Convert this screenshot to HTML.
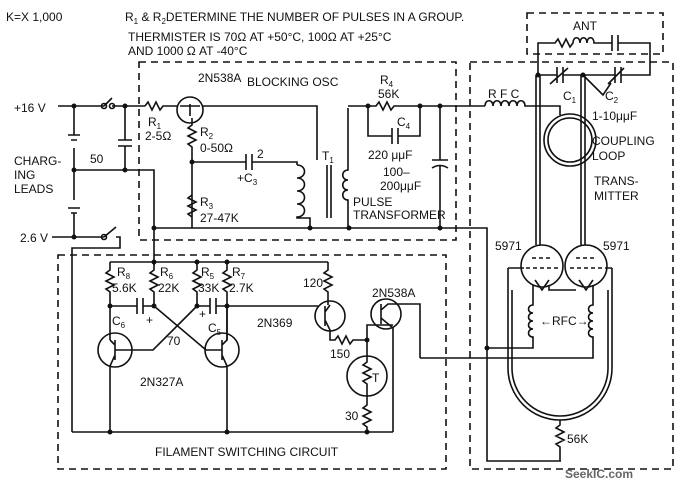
<!DOCTYPE html>
<html><head><meta charset="utf-8"><style>
html,body{margin:0;padding:0;background:#fff}
svg{display:block}
text{font-family:"Liberation Sans",sans-serif;font-size:12px;fill:#111}
.l{stroke:#111;stroke-width:1.6;fill:none}
.d{stroke:#111;stroke-width:1.6;fill:none;stroke-dasharray:7,5}
.n{fill:#111}
</style></head><body>
<svg width="684" height="487" viewBox="0 0 684 487">
<text x="6" y="21">K=X 1,000</text>
<text x="125" y="21">R<tspan font-size="8" dy="3">1</tspan><tspan dy="-3"> &amp; R</tspan><tspan font-size="8" dy="3">2</tspan><tspan dy="-3">DETERMINE THE NUMBER OF PULSES IN A GROUP.</tspan></text>
<text x="128" y="41">THERMISTER IS 70Ω AT +50°C, 100Ω AT +25°C</text>
<text x="128" y="55">AND 1000 Ω AT -40°C</text>
<rect class="d" x="139" y="62" width="317" height="178"/>
<rect class="d" x="470" y="62" width="203" height="407"/>
<rect class="d" x="527" y="13" width="136" height="41"/>
<rect class="d" x="58" y="255" width="388" height="214"/>
<text x="247" y="86">BLOCKING OSC</text>
<text x="573" y="30">ANT</text>
<text x="155" y="456">FILAMENT SWITCHING CIRCUIT</text>
<text x="14" y="112" font-size="13">+16 V</text>
<text x="14" y="165">CHARG-</text><text x="14" y="179">ING</text><text x="14" y="193">LEADS</text>
<text x="20" y="242">2.6 V</text>
<path class="l" d="M58 106H104 M112 106H145 M74 106V135 M74 148V200 M74 213V237 M68 135H80 M71 140H77 M68 208H80 M71 213H77 M52 237H104 M104 106l8 -8 M104 237l12 -10 M116 237H120V248H72V432"/>
<circle class="l" cx="104" cy="106" r="2.5"/><circle class="l" cx="112" cy="106" r="2.5"/><circle class="l" cx="104" cy="237" r="2.5"/>
<path class="l" d="M125 106V140 M118 140H132 M118 146H132 M125 146V170 M74 170H154V265"/>
<text x="90" y="163">50</text>
<path class="l" d="M145 106l3-4 4 8 4-8 4 8 3-4H178"/>
<text x="148" y="126">R<tspan font-size="8" dy="3">1</tspan></text><text x="145" y="140">2-5Ω</text>
<circle class="l" cx="190" cy="110" r="13"/>
<path class="l" d="M180 106H200 M190 104V116 M202 106H317V160 M192 118V125 l-4 3 8 4-8 4 8 4-8 4 4 3V228"/>
<text x="198" y="82">2N538A</text>
<text x="200" y="136">R<tspan font-size="8" dy="3">2</tspan></text><text x="200" y="152">0-50Ω</text>
<path class="l" d="M192 162H246 M252 162H297V165 M192 195l-4 3 8 4-8 4 8 4-8 4 4 3"/>
<path class="l" d="M246 154V170 M252 154V170"/>
<text x="237" y="182">+C<tspan font-size="8" dy="3">3</tspan></text><text x="257" y="158">2</text>
<text x="200" y="206">R<tspan font-size="8" dy="3">3</tspan></text><text x="200" y="222">27-47K</text>
<circle class="n" cx="192" cy="162" r="2.5"/>
<path class="l" d="M297 165c10 0 10 13 0 13c10 0 10 13 0 13c10 0 10 13 0 13c10 0 10 13 0 13V218H310V228"/>
<path class="l" d="M327 165V218 M331 165V218"/>
<text x="322" y="160">T<tspan font-size="8" dy="3">1</tspan></text>
<path class="l" d="M348 108V170c-7 0-7 10 0 10c-7 0-7 10 0 10c-7 0-7 10 0 10V228 M348 106H368"/>
<text x="353" y="206" font-size="11">PULSE</text><text x="353" y="219" font-size="11">TRANSFORMER</text>
<path class="l" d="M154 228H487V461H561 M368 106H376l3-4 4 8 4-8 4 8 3-4H420H485 M368 106V136H392 M398 136H420V106 M392 128V144 M398 128V144 M440 106V160 M432 160H448 M432 168q8-5 16 0 M440 166V228"/>
<text x="380" y="84">R<tspan font-size="8" dy="3">4</tspan></text><text x="378" y="98">56K</text>
<text x="397" y="126">C<tspan font-size="8" dy="3">4</tspan></text>
<text x="368" y="159">220 μμF</text><text x="383" y="176">100–</text><text x="380" y="190">200μμF</text>
<circle class="n" cx="368" cy="106" r="2.5"/><circle class="n" cx="420" cy="106" r="2.5"/><circle class="n" cx="440" cy="106" r="2.5"/>
<circle class="n" cx="154" cy="228" r="2.5"/><circle class="n" cx="310" cy="228" r="2.5"/><circle class="n" cx="349" cy="228" r="2.5"/><circle class="n" cx="440" cy="228" r="2.5"/>
<circle class="n" cx="74" cy="106" r="2.5"/><circle class="n" cx="74" cy="170" r="2.5"/><circle class="n" cx="74" cy="237" r="2.5"/><circle class="n" cx="125" cy="106" r="2.5"/><circle class="n" cx="125" cy="170" r="2.5"/>
<path class="l" d="M485 106c0-7 8-7 8 0c0-7 8-7 8 0c0-7 8-7 8 0c0-7 8-7 8 0c0-7 8-7 8 0H560V115"/>
<text x="488" y="98">R F C</text>
<circle class="l" cx="570" cy="140" r="26"/><circle class="l" cx="570" cy="140" r="22"/>
<path class="l" d="M536 75V245 M540 75V245 M581 75V245 M585 75V245 M538 75H557 M563 75H615 M621 75H650V45 M538 75V43H555l3-4 4 8 4-8 4 8 3-4c0-7 7-7 7 0c0-7 7-7 7 0c0-7 7-7 7 0H612 M618 43H650V45 M557 67V83 M563 67V83 M615 67V83 M621 67V83 M612 35V51 M618 35V51 M550 84l18-16 M608 84l16-16 M583 75l20 20 l8-12"/>
<circle class="n" cx="538" cy="75" r="2.5"/><circle class="n" cx="583" cy="75" r="2.5"/>
<text x="563" y="100">C<tspan font-size="8" dy="3">1</tspan></text><text x="605" y="100">C<tspan font-size="8" dy="3">2</tspan></text>
<text x="592" y="120">1-10μμF</text>
<text x="592" y="145">COUPLING</text><text x="592" y="160">LOOP</text>
<text x="594" y="185">TRANS-</text><text x="594" y="200">MITTER</text>
<text x="495" y="250">5971</text><text x="603" y="250">5971</text>
<circle class="l" cx="542" cy="266" r="21"/><circle class="l" cx="586" cy="266" r="21"/>
<path class="l" d="M532 258H552 M576 258H596 M526 268h32 M570 268h32" stroke-dasharray="4,3"/>
<path class="l" d="M508 268V368a52 52 0 0 0 104 0V268 M512 290V368a48 48 0 0 0 96 0V290 M508 268H524 M612 268H605 M535 280l7 10 7-10 M579 280l7 10 7-10 M549 285V290H576 M533 285V305c-6 0-6 8 0 8c-6 0-6 8 0 8c-6 0-6 8 0 8c-6 0-6 8 0 8V348H487 M593 285V305c-6 0-6 8 0 8c-6 0-6 8 0 8c-6 0-6 8 0 8c-6 0-6 8 0 8V358H420 M560 420V425l-4 3 8 4-8 4 8 4-8 4 4 3V461"/>
<text x="540" y="325">←RFC→</text><text x="567" y="443">56K</text>
<circle class="n" cx="487" cy="348" r="2.5"/>
<path class="l" d="M110 262H328 M110 262V270l-4 3 8 4-8 4 8 4-8 4 4 3V340 M154 262V270l-4 3 8 4-8 4 8 4-8 4 4 3V306 M197 262V270l-4 3 8 4-8 4 8 4-8 4 4 3V306 M227 262V270l-4 3 8 4-8 4 8 4-8 4 4 3V340 M328 262V270l-4 3 8 4-8 4 8 4-8 4 4 3V305"/>
<text x="117" y="276">R<tspan font-size="8" dy="3">8</tspan></text><text x="112" y="292">5.6K</text>
<text x="160" y="276">R<tspan font-size="8" dy="3">6</tspan></text><text x="158" y="292">22K</text>
<text x="201" y="276">R<tspan font-size="8" dy="3">5</tspan></text><text x="198" y="292">33K</text>
<text x="232" y="276">R<tspan font-size="8" dy="3">7</tspan></text><text x="229" y="292">2.7K</text>
<text x="303" y="287">120</text>
<path class="l" d="M110 306H137 M143 306H154 M197 306H210 M216 306H227 M137 298V314 M143 298V314 M210 298V314 M216 298V314 M154 306L206 350H222 M197 306L153 350H115 M227 306H318"/>
<circle class="n" cx="110" cy="306" r="2.5"/><circle class="n" cx="154" cy="306" r="2.5"/><circle class="n" cx="197" cy="306" r="2.5"/><circle class="n" cx="227" cy="306" r="2.5"/><circle class="n" cx="154" cy="262" r="2.5"/><circle class="n" cx="197" cy="262" r="2.5"/><circle class="n" cx="227" cy="262" r="2.5"/>
<text x="112" y="325">C<tspan font-size="8" dy="3">6</tspan></text><text x="146" y="324">+</text><text x="199" y="318">+</text><text x="208" y="332">C<tspan font-size="8" dy="3">5</tspan></text>
<text x="167" y="345">70</text>
<circle class="l" cx="115" cy="350" r="17"/><circle class="l" cx="222" cy="350" r="17"/>
<path class="l" d="M115 340V360 M115 345L110 340 M115 355L110 366V432 M222 340V360 M222 345L227 340V306 M222 355L227 366V432"/>
<text x="140" y="386">2N327A</text>
<circle class="l" cx="330" cy="316" r="15"/><circle class="l" cx="386" cy="314" r="15"/>
<path class="l" d="M325 306V326 M325 312L330 305 M325 320L330 330V340H335l3-4 4 8 4-8 4 8 3-4H367V355 M381 304V324 M381 310L388 304H420V358 M381 318L393 328V432 M367 340V325H393"/>
<text x="257" y="327">2N369</text><text x="372" y="297">2N538A</text>
<text x="330" y="358">150</text>
<circle class="n" cx="367" cy="340" r="2.5"/>
<circle class="l" cx="367" cy="376" r="20"/>
<path class="l" d="M367 355V362l-4 3 8 4-8 4 8 4-8 4 4 3V396 M367 396V405l-4 3 8 4-8 4 8 4-8 4 4 3V432"/>
<text x="372" y="382">T</text><text x="345" y="420">30</text>
<path class="l" d="M72 432H393"/>
<circle class="n" cx="110" cy="432" r="2.5"/><circle class="n" cx="227" cy="432" r="2.5"/><circle class="n" cx="367" cy="432" r="2.5"/>
<text x="565" y="478" font-size="15" font-weight="bold" style="fill:#666">SeekIC.com</text>
</svg>
</body></html>
